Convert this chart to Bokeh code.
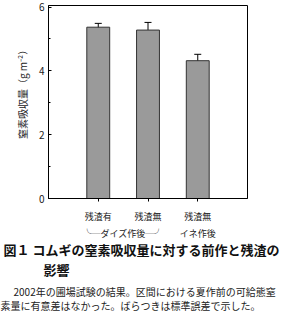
from bokeh.plotting import figure
from bokeh.models import (ColumnDataSource, Whisker, TeeHead, FixedTicker, Range1d,
                          LinearAxis, Title)
from bokeh.embed import file_html
from bokeh.resources import INLINE

categories = ["残渣有", "残渣無", "残渣無"]
groups = ["╰─ダイズ作後─╯", "イネ作後"]
group_positions = [1.5, 3]
values = [5.37, 5.28, 4.32]
errors = [0.12, 0.24, 0.20]
positions = [1, 2, 3]
y_ticks = [0, 2, 4, 6]
y_minor = [1, 3, 5]
y_label = "　　窒素吸収量（g m⁻²）"
title_lines = ["図１ コムギの窒素吸収量に対する前作と残渣の", "影響"]
note_lines = ["2002年の圃場試験の結果。区間における夏作前の可給態窒",
              "素量に有意差はなかった。ばらつきは標準誤差で示した。"]

FONT = "Noto Sans CJK JP"

src = ColumnDataSource(dict(
    x=positions, top=values,
    upper=[v + e for v, e in zip(values, errors)],
    lower=[v - e for v, e in zip(values, errors)],
))

p = figure(width=284, height=316, output_backend="svg", toolbar_location=None,
           x_range=Range1d(0, 4), y_range=Range1d(0, 6.05),
           min_border_left=48, min_border_right=37, min_border_top=5, min_border_bottom=118)
p.grid.visible = False
p.outline_line_color = "black"
p.outline_line_width = 1

p.vbar(x="x", top="top", width=0.46, bottom=0, source=src,
       fill_color="#9a9a9a", line_color="#333333", line_width=1)

w = Whisker(base="x", upper="upper", lower="lower", source=src,
            line_color="black", line_width=1,
            upper_head=TeeHead(size=7, line_color="black", line_width=1),
            lower_head=TeeHead(size=7, line_color="black", line_width=1))
p.add_layout(w)

ya = p.yaxis[0]
ya.ticker = FixedTicker(ticks=y_ticks, minor_ticks=y_minor)
ya.major_tick_in = 3
ya.major_tick_out = 0
ya.minor_tick_in = 2
ya.minor_tick_out = 0
ya.major_label_text_font = FONT
ya.major_label_text_font_size = "10px"
ya.major_label_text_color = "#222222"
ya.major_label_standoff = 4
ya.axis_line_color = "black"
ya.axis_label = y_label
ya.axis_label_text_font = FONT
ya.axis_label_text_font_size = "10px"
ya.axis_label_text_font_style = "normal"
ya.axis_label_text_color = "#222222"
ya.axis_label_standoff = 6

xa = p.xaxis[0]
xa.ticker = FixedTicker(ticks=positions)
xa.major_label_overrides = {pos: c for pos, c in zip(positions, categories)}
xa.major_tick_in = 0
xa.major_tick_out = 3
xa.minor_tick_in = 0
xa.minor_tick_out = 0
xa.major_label_text_font = FONT
xa.major_label_text_font_size = "9px"
xa.major_label_text_color = "#222222"
xa.major_label_standoff = 8
xa.axis_line_color = "black"

# second row: previous-crop groups
ga = LinearAxis(ticker=FixedTicker(ticks=group_positions),
                major_label_overrides={pos: g for pos, g in zip(group_positions, groups)},
                axis_line_color=None, major_tick_line_color=None, minor_tick_line_color=None,
                major_tick_in=0, major_tick_out=0, minor_tick_in=0, minor_tick_out=0,
                major_label_standoff=1, major_label_text_font=FONT,
                major_label_text_font_size="9px", major_label_text_color="#222222")
p.add_layout(ga, "below")

# caption lines
for txt, off, size, style, color, sd in [
        (title_lines[0], -45, "13px", "bold", "#111111", -9),
        (title_lines[1], -5, "13px", "bold", "#111111", 7),
        (note_lines[0], -35, "10px", "normal", "#222222", -2),
        (note_lines[1], -48, "10px", "normal", "#222222", -3)]:
    p.add_layout(Title(text=txt, align="left", offset=off, text_font=FONT,
                       text_font_size=size, text_font_style=style, text_color=color,
                       standoff=sd), "below")

open("out.html", "w").write(file_html(p, INLINE))
